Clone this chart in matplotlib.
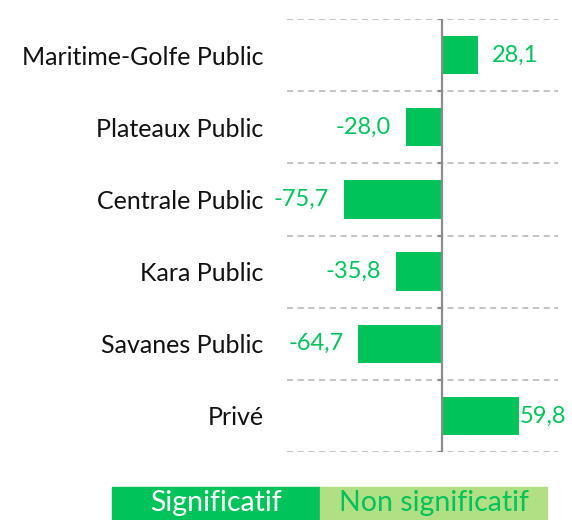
import matplotlib
matplotlib.use("Agg")
import matplotlib.pyplot as plt
from matplotlib.patches import Rectangle
from matplotlib.transforms import offset_copy

plt.rcParams['font.family'] = ['Lato', 'DejaVu Sans']

categories = ["Maritime-Golfe Public", "Plateaux Public", "Centrale Public",
              "Kara Public", "Savanes Public", "Privé"]
values = [28.1, -28.0, -75.7, -35.8, -64.7, 59.8]
legend_labels = ["Significatif", "Non significatif"]

GREEN = "#00C35A"
LIGHT = "#B1DF84"

fig = plt.figure(figsize=(5.72, 5.2), dpi=100)
ax = fig.add_axes([287/572, 68/520, 271/572, 433/520])

y = list(range(len(categories)))
ax.barh(y, values, height=0.53, color=GREEN, zorder=2)
ax.set_xlim(-120, 90)
ax.set_ylim(len(categories) - 0.5, -0.5)

for b in [i - 0.5 for i in range(len(categories) + 1)]:
    ax.axhline(b, color="#B4B4B4", lw=1.1, ls=(0, (4, 3)), zorder=1)
ax.axvline(0, color="#8C8C8C", lw=1.6, zorder=3)
for b in [i - 0.5 for i in range(len(categories) + 1)]:
    ax.plot([-2.5, 0], [b, b], color="#8C8C8C", lw=1.6, zorder=3)

ax.set_yticks(y)
ax.set_yticklabels(categories, fontsize=18, color="#111111")
ax.tick_params(axis='y', length=0, pad=17)
ax.set_xticks([])
for s in ax.spines.values():
    s.set_visible(False)

fig.canvas.draw()
renderer = fig.canvas.get_renderer()
for yi, v in zip(y, values):
    txt = f"{v:.1f}".replace(".", ",")
    if v >= 0:
        t = ax.text(v, yi, txt, ha="left", va="center", fontsize=17, color=GREEN,
                    transform=offset_copy(ax.transData, fig=fig, x=14, y=0, units="dots"))
        bb = t.get_window_extent(renderer)
        if bb.x1 > fig.bbox.width - 2:
            t.set_transform(offset_copy(ax.transData, fig=fig, x=1, y=0, units="dots"))
    else:
        ax.text(v, yi, txt, ha="right", va="center", fontsize=17, color=GREEN,
                transform=offset_copy(ax.transData, fig=fig, x=-15, y=0, units="dots"))

# legend boxes
h = 33/520
fig.patches.append(Rectangle((112/572, 0), 208/572, h, transform=fig.transFigure,
                             color=GREEN, zorder=0))
fig.patches.append(Rectangle((320/572, 0), 227/572, h, transform=fig.transFigure,
                             color=LIGHT, zorder=0))
fig.text(216/572, h/2, legend_labels[0], ha="center", va="center", fontsize=20.5, color="white")
fig.text(433.5/572, h/2, legend_labels[1], ha="center", va="center", fontsize=20.5, color=GREEN)

fig.savefig("out.png", dpi=100)
